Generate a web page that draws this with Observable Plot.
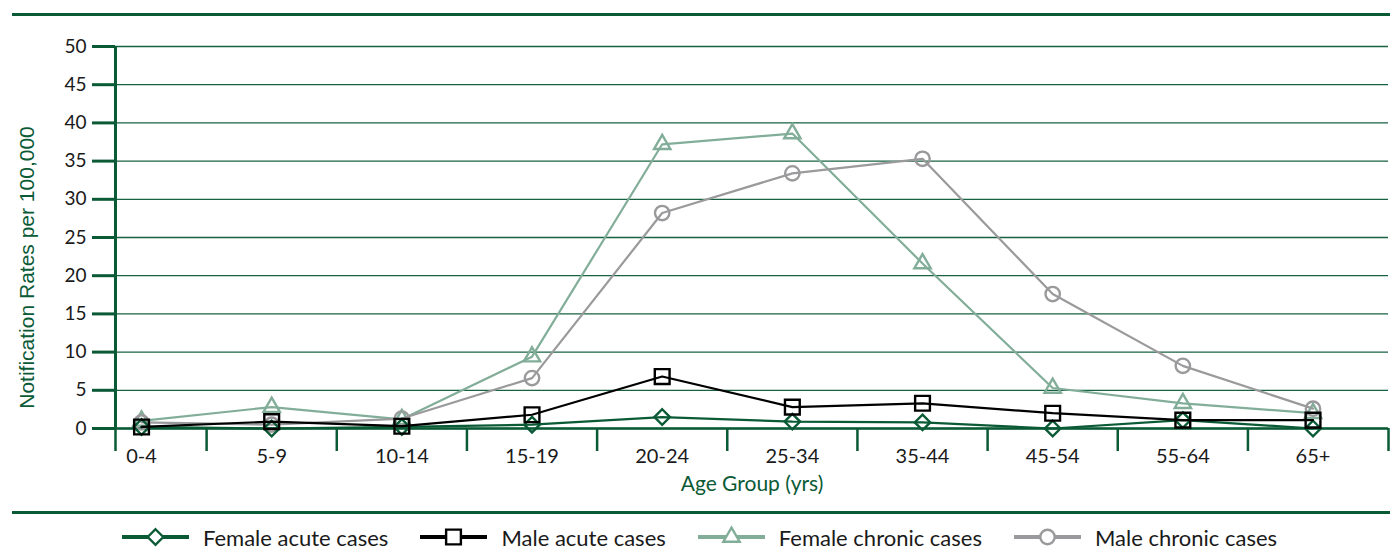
<!DOCTYPE html>
<html><head><meta charset="utf-8">
<script src="https://cdn.jsdelivr.net/npm/d3@7"></script>
<script src="https://cdn.jsdelivr.net/npm/@observablehq/plot@0.6"></script>
<style>
body{margin:0;background:#fff;font-family:Lato,"Open Sans",sans-serif;}
#wrap{width:1399px;height:551px;position:relative;overflow:hidden;}
.rule{margin-left:12px;width:1378px;border-top:3px solid #0b5a36;height:0;}
#legend{display:flex;justify-content:center;align-items:center;gap:32px;height:30px;margin-top:8px;font-size:22px;color:#1a1a1a;}
.item{display:flex;align-items:center;gap:14px;}
.item svg{display:block;}
</style></head><body>
<div id="wrap">
<div class="rule" style="margin-top:13px"></div>
<div id="chart"></div>
<div class="rule"></div>
<div id="legend"></div>
</div>
<script>
// ---- data ----
const ageGroups = ["0-4","5-9","10-14","15-19","20-24","25-34","35-44","45-54","55-64","65+"];
const femaleAcute   = [0.2, 0.0, 0.2, 0.5, 1.5, 0.9, 0.8, 0.0, 1.1, 0.0];
const maleAcute     = [0.2, 0.9, 0.3, 1.8, 6.8, 2.8, 3.3, 2.0, 1.1, 1.1];
const femaleChronic = [1.0, 2.8, 1.2, 9.4, 37.2, 38.6, 21.6, 5.3, 3.3, 2.0];
const maleChronic   = [0.8, 0.5, 1.3, 6.6, 28.2, 33.4, 35.3, 17.6, 8.2, 2.6];
const seriesNames = ["Female acute cases","Male acute cases","Female chronic cases","Male chronic cases"];
const yTicks = [0,5,10,15,20,25,30,35,40,45,50];

// ---- styles ----
const GREEN = "#0b5a36";
const styles = {
  "Female acute cases":   {color:"#0b5a36", symbol:"diamond2", r:7.0},
  "Male acute cases":     {color:"#000000", symbol:"square2",  r:9.4},
  "Female chronic cases": {color:"#82ae99", symbol:"triangle2",r:7.8},
  "Male chronic cases":   {color:"#9a9a9c", symbol:"circle",   r:7.2}
};
const drawOrder = ["Female chronic cases","Male chronic cases","Female acute cases","Male acute cases"];

const valuesByName = {
  "Female acute cases": femaleAcute,
  "Male acute cases": maleAcute,
  "Female chronic cases": femaleChronic,
  "Male chronic cases": maleChronic
};
const rows = name => valuesByName[name].map((v,i)=>({i, value:v, series:name}));

const xDomain = [-0.2, 9.58];
const idx = ageGroups.map((_,i)=>i);
const boundaries = [xDomain[0], ...idx.slice(0,-1).map(i=>i+0.5), xDomain[1]];

const marks = [
  Plot.gridY(yTicks, {stroke: GREEN, strokeOpacity: 0.95, strokeWidth: 1.3}),
  Plot.axisY(yTicks, {tickSize: 23, tickPadding: 6, stroke: GREEN, strokeWidth: 3, fill: "#1a1a1a", fontSize: 19, label: null}),
  Plot.axisX(boundaries, {tickSize: 23, tickFormat: () => "", stroke: GREEN, strokeWidth: 2.5, label: null}),
  Plot.axisX(idx, {tickSize: 0, tickPadding: 20, tickFormat: i => ageGroups[i], fill: "#1a1a1a", fontSize: 20, label: null}),
  Plot.ruleX([xDomain[0]], {stroke: GREEN, strokeWidth: 3}),
  Plot.ruleY([0], {stroke: GREEN, strokeWidth: 2.5}),
  Plot.text(["Notification Rates per 100,000"], {frameAnchor: "left", textAnchor: "middle", rotate: -90, dx: -88, dy: 30, fill: GREEN, fontSize: 21, fontFamily: "Liberation Sans, Arial, sans-serif"}),
  Plot.text(["Age Group (yrs)"], {frameAnchor: "bottom", textAnchor: "middle", dy: 62, fill: GREEN, fontSize: 21})
];
for (const name of drawOrder) {
  const s = styles[name];
  marks.push(Plot.line(rows(name), {x: "i", y: "value", stroke: s.color, strokeWidth: 2.2}));
  marks.push(Plot.dot(rows(name), {x: "i", y: "value", symbol: () => s.symbol, r: s.r, stroke: s.color, strokeWidth: 2.4, fill: "none"}));
}

const chart = Plot.plot({
  width: 1399,
  height: 495,
  marginLeft: 115,
  marginRight: 11,
  marginTop: 30,
  marginBottom: 83,
  style: {fontFamily: "Lato, 'Open Sans', sans-serif", background: "transparent", overflow: "visible"},
  x: {type: "linear", domain: xDomain, axis: null},
  y: {domain: [0, 50], axis: null},
  symbol: {type: "identity"},
  marks
});
document.getElementById("chart").appendChild(chart);

// ---- legend ----
const symMap = {diamond2: d3.symbolDiamond2, square2: d3.symbolSquare2, triangle2: d3.symbolTriangle2, circle: d3.symbolCircle};
const legend = d3.select("#legend");
for (const name of seriesNames) {
  const s = styles[name];
  const it = legend.append("div").attr("class","item");
  const svg = it.append("svg").attr("width", 67).attr("height", 24);
  svg.append("line").attr("x1",0).attr("x2",67).attr("y1",12).attr("y2",12)
    .attr("stroke", s.color).attr("stroke-width", 4);
  svg.append("path").attr("transform","translate(33.5,12)")
    .attr("d", d3.symbol(symMap[s.symbol], Math.PI*s.r*s.r)())
    .attr("fill","#fff").attr("stroke", s.color).attr("stroke-width", 2.4);
  it.append("span").text(name);
}
</script>
</body></html>
